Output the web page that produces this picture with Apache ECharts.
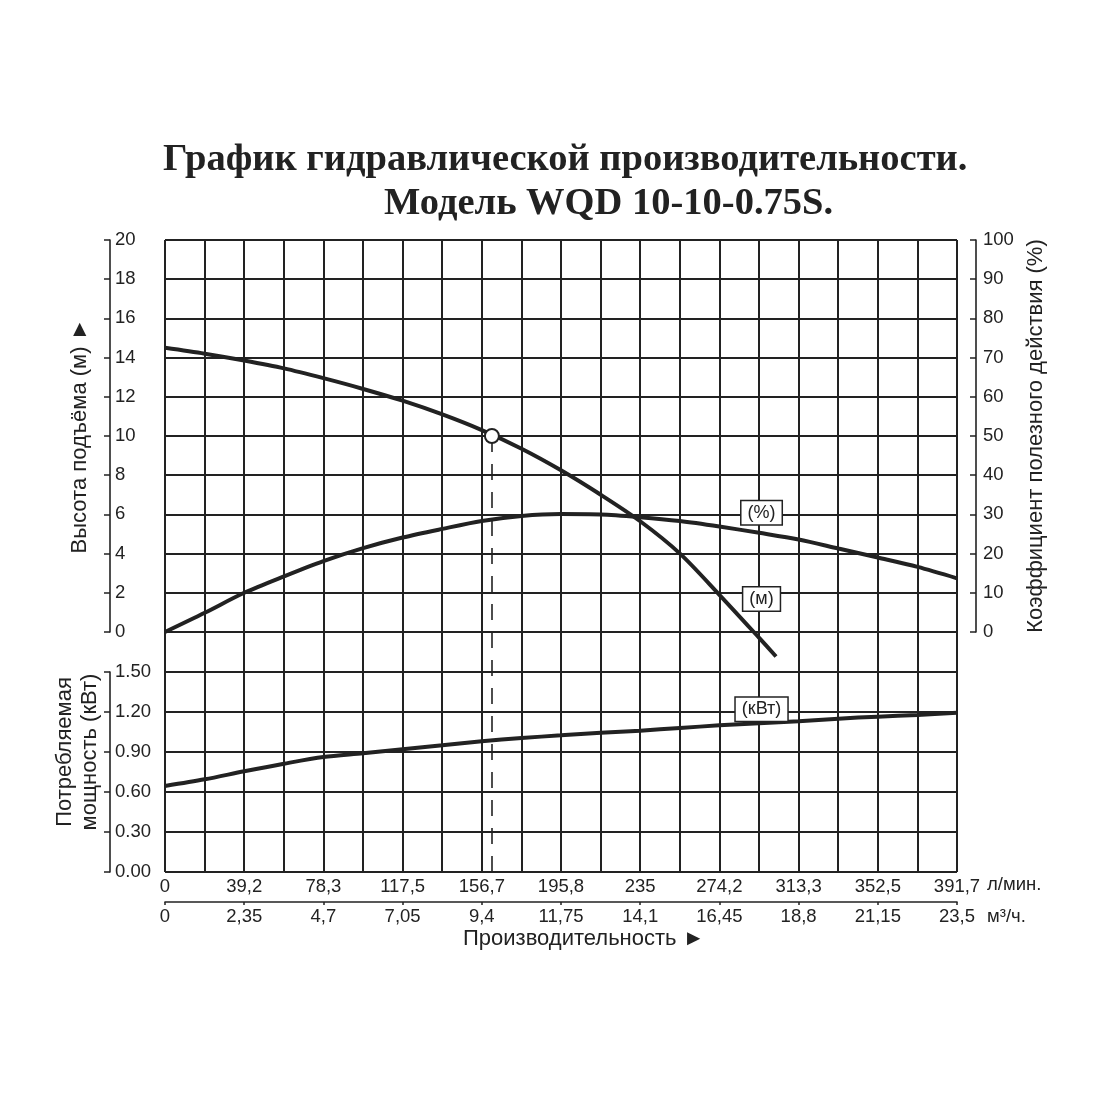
<!DOCTYPE html>
<html>
<head>
<meta charset="utf-8">
<script src="https://cdn.jsdelivr.net/npm/echarts@6/dist/echarts.min.js"></script>
<style>
  html, body { margin: 0; padding: 0; background: #fff; }
  #chart { width: 1100px; height: 1100px; }
</style>
</head>
<body>
<div id="chart"></div>
<script>
// flow in m3/h, one point per grid column
const flow = [0, 1.18, 2.35, 3.53, 4.7, 5.88, 7.05, 8.23, 9.4, 10.58, 11.75, 12.93, 14.1, 15.28, 16.45, 17.63, 18.8, 19.98, 21.15, 22.33, 23.5]
const efficiency = [0, 4.9, 10, 14.2, 18.1, 21.4, 24.1, 26.3, 28.3, 29.6, 30.1, 30, 29.3, 28.3, 26.9, 25.3, 23.6, 21.3, 19, 16.6, 13.7]
const power = [0.645, 0.695, 0.755, 0.812, 0.862, 0.89, 0.92, 0.95, 0.98, 1.005, 1.025, 1.045, 1.06, 1.08, 1.1, 1.115, 1.13, 1.15, 1.165, 1.178, 1.195]

// head curve stops before the end of the range
const headFlow = [0, 1.18, 2.35, 3.53, 4.7, 5.88, 7.05, 8.23, 9.4, 10.58, 11.75, 12.93, 14.1, 15.28, 16.45, 17.63, 18.13]
const head = [14.5, 14.2, 13.85, 13.45, 12.95, 12.4, 11.8, 11.1, 10.3, 9.35, 8.25, 7.0, 5.65, 4.0, 1.9, -0.3, -1.25]

const dutyPoint = [9.7, 10]

const lpmLabels = ['0', '39,2', '78,3', '117,5', '156,7', '195,8', '235', '274,2', '313,3', '352,5', '391,7']
const m3hLabels = ['0', '2,35', '4,7', '7,05', '9,4', '11,75', '14,1', '16,45', '18,8', '21,15', '23,5']

const ink = '#222'
const font = '"Liberation Sans", Arial, sans-serif'
const serif = '"Liberation Serif", "Times New Roman", serif'
const gridLine = { show: true, lineStyle: { color: ink, width: 2 } }
const axisLineStyle = { show: true, onZero: false, lineStyle: { color: ink, width: 1.6 } }
const labelText = { color: ink, fontFamily: font, fontSize: 18.5 }
const nameText = { color: ink, fontFamily: font, fontSize: 22 }
const tagLabel = {
    show: true,
    position: 'inside',
    color: ink,
    fontFamily: font,
    fontSize: 18,
    backgroundColor: '#fff',
    borderColor: ink,
    borderWidth: 1.5,
    padding: [3, 6, 2, 6]
}

function tag(coord, text) {
    return {
        coord: coord,
        symbol: 'rect',
        symbolSize: 1,
        itemStyle: { color: 'transparent' },
        label: Object.assign({}, tagLabel, { formatter: text })
    }
}

const option = {
    animation: false,
    backgroundColor: '#fff',
    title: [
        {
            text: 'График гидравлической производительности.',
            left: 163,
            top: 141,
            padding: 0,
            textStyle: { fontFamily: serif, fontWeight: 'bold', fontSize: 38.5, color: ink }
        },
        {
            text: 'Модель WQD 10-10-0.75S.',
            left: 384,
            top: 185,
            padding: 0,
            textStyle: { fontFamily: serif, fontWeight: 'bold', fontSize: 38.5, color: ink }
        },
        {
            text: 'Производительность ►',
            left: 463,
            top: 928,
            padding: 0,
            textStyle: { fontFamily: font, fontWeight: 'normal', fontSize: 22, color: ink }
        }
    ],
    grid: [
        { left: 165, right: 143, top: 240, height: 392, outerBoundsMode: 'none' },
        { left: 165, right: 143, top: 632, height: 240, outerBoundsMode: 'none' },
        { left: 165, right: 143, top: 672, height: 200, outerBoundsMode: 'none' }
    ],
    xAxis: [
        {
            gridIndex: 0, type: 'value', min: 0, max: 23.5, interval: 1.175,
            axisLine: { show: false }, axisTick: { show: false }, axisLabel: { show: false },
            splitLine: gridLine
        },
        {
            gridIndex: 1, type: 'value', position: 'bottom', min: 0, max: 23.5, interval: 1.175,
            axisLine: { show: false }, axisTick: { show: false },
            axisLabel: Object.assign({ margin: 5, formatter: (v, i) => (i % 2 ? '' : lpmLabels[i / 2]) }, labelText),
            splitLine: gridLine,
            name: 'л/мин.', nameLocation: 'end', nameGap: 30,
            nameTextStyle: Object.assign({ verticalAlign: 'top', padding: [3, 0, 0, 0] }, labelText)
        },
        {
            gridIndex: 1, type: 'value', position: 'bottom', offset: 30, min: 0, max: 23.5, interval: 2.35,
            axisLine: axisLineStyle,
            axisTick: { show: true, length: 3, lineStyle: { color: ink, width: 1.5 } },
            axisLabel: Object.assign({ margin: 5, formatter: (v, i) => m3hLabels[i] }, labelText),
            splitLine: { show: false },
            name: 'м³/ч.', nameLocation: 'end', nameGap: 30,
            nameTextStyle: Object.assign({ verticalAlign: 'top', padding: [5, 0, 0, 0] }, labelText)
        },
        { gridIndex: 2, type: 'value', min: 0, max: 23.5, show: false }
    ],
    yAxis: [
        {
            gridIndex: 0, type: 'value', position: 'left', offset: 55, min: 0, max: 20, interval: 2,
            axisLine: axisLineStyle,
            axisTick: { show: true, inside: false, length: 6, lineStyle: { color: ink, width: 1.5 } },
            axisLabel: Object.assign({ inside: true, margin: 5 }, labelText),
            splitLine: gridLine,
            name: 'Высота подъёма (м) ►', nameLocation: 'middle', nameGap: 19, nameRotate: 90,
            nameTextStyle: nameText
        },
        {
            gridIndex: 0, type: 'value', position: 'right', offset: 19, min: 0, max: 100, interval: 10,
            axisLine: axisLineStyle,
            axisTick: { show: true, inside: true, length: 6, lineStyle: { color: ink, width: 1.5 } },
            axisLabel: Object.assign({ margin: 7 }, labelText),
            splitLine: { show: false },
            name: 'Коэффициент полезного действия (%)', nameLocation: 'middle', nameGap: 32, nameRotate: 90,
            nameTextStyle: nameText
        },
        {
            gridIndex: 1, type: 'value', position: 'left', offset: 55, min: 0, max: 1.8, interval: 0.3,
            axisLine: { show: false }, axisTick: { show: false }, axisLabel: { show: false },
            splitLine: gridLine,
            name: 'Потребляемая\nмощность (кВт)', nameLocation: 'middle', nameGap: 8, nameRotate: 90,
            nameTextStyle: Object.assign({}, nameText, { lineHeight: 25 })
        },
        {
            gridIndex: 2, type: 'value', position: 'left', offset: 55, min: 0, max: 1.5, interval: 0.3,
            axisLine: axisLineStyle,
            axisTick: { show: true, inside: false, length: 6, lineStyle: { color: ink, width: 1.5 } },
            axisLabel: Object.assign({ inside: true, margin: 5, formatter: v => v.toFixed(2) }, labelText),
            splitLine: { show: false }
        }
    ],
    series: [
        {
            name: 'head',
            type: 'line',
            xAxisIndex: 0,
            yAxisIndex: 0,
            data: headFlow.map((x, i) => [x, head[i]]),
            symbol: 'none',
            smooth: 0.3,
            clip: false,
            lineStyle: { color: ink, width: 4 },
            z: 5,
            markLine: {
                silent: true,
                symbol: ['none', 'none'],
                label: { show: false },
                lineStyle: { color: ink, width: 1.6, type: [16, 12] },
                data: [
                    [{ coord: [0, dutyPoint[1]] }, { coord: dutyPoint }],
                    [{ coord: dutyPoint }, { coord: [dutyPoint[0], 0] }]
                ]
            },
            markPoint: {
                silent: true,
                z: 10,
                data: [
                    {
                        coord: dutyPoint,
                        symbol: 'circle',
                        symbolSize: 14,
                        itemStyle: { color: '#fff', borderColor: ink, borderWidth: 2 },
                        label: { show: false }
                    },
                    tag([17.7, 1.68], '(м)')
                ]
            }
        },
        {
            name: 'efficiency',
            type: 'line',
            xAxisIndex: 0,
            yAxisIndex: 1,
            data: flow.map((x, i) => [x, efficiency[i]]),
            symbol: 'none',
            smooth: 0.3,
            lineStyle: { color: ink, width: 4 },
            z: 5,
            markPoint: { silent: true, z: 10, data: [tag([17.7, 30.4], '(%)')] }
        },
        {
            name: 'power',
            type: 'line',
            xAxisIndex: 1,
            yAxisIndex: 2,
            data: flow.map((x, i) => [x, power[i]]),
            symbol: 'none',
            smooth: 0.3,
            lineStyle: { color: ink, width: 4 },
            z: 5,
            markLine: {
                silent: true,
                symbol: ['none', 'none'],
                label: { show: false },
                lineStyle: { color: ink, width: 1.6, type: [16, 12] },
                data: [{ xAxis: dutyPoint[0] }]
            },
            markPoint: { silent: true, z: 10, data: [tag([17.7, 1.22], '(кВт)')] }
        }
    ]
}

const myChart = echarts.init(document.getElementById('chart'))
myChart.setOption(option)
</script>
</body>
</html>
